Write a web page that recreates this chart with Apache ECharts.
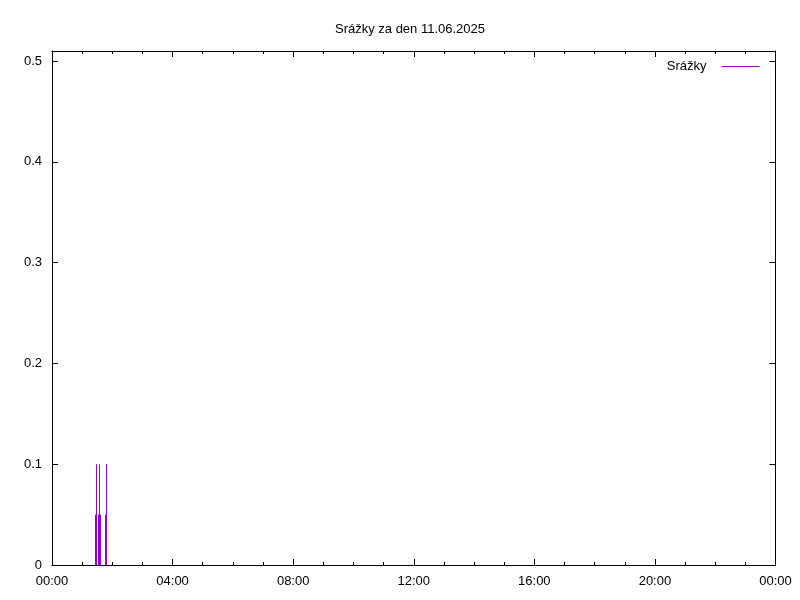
<!DOCTYPE html>
<html>
<head>
<meta charset="utf-8">
<script src="https://cdn.jsdelivr.net/npm/echarts@6/dist/echarts.min.js"></script>
<style>html,body{margin:0;padding:0;background:#fff}#c{width:800px;height:600px}</style>
</head>
<body>
<div id="c"></div>
<script>
// minutes since midnight
const times = [86, 88, 91, 94, 96, 106, 108];
const values = [0.05, 0.1, 0.05, 0.1, 0.05, 0.05, 0.1];
const seriesName = 'Srážky';
const titleText = 'Srážky za den 11.06.2025';
const yTicks = [0, 0.1, 0.2, 0.3, 0.4, 0.5];

function fmtTime(v) {
  const m = Math.round(v) % 1440;
  const h = Math.floor(m / 60), mm = m % 60;
  return String(h).padStart(2, '0') + ':' + String(mm).padStart(2, '0');
}
const font = 'Liberation Sans, Arial, sans-serif';
const chart = echarts.init(document.getElementById('c'), null, {renderer: 'canvas'});
const axLine = {show: true, onZero: false, lineStyle: {color: '#000', width: 1}};
const xBase = {
  type: 'value', min: 0, max: 1440, interval: 240,
  axisLine: axLine,
  axisTick: {show: true, inside: true, length: 6, lineStyle: {color: '#000'}},
  minorTick: {show: true, splitNumber: 4, length: 3, lineStyle: {color: '#000'}},
  splitLine: {show: false}
};
const yBase = {
  type: 'value', min: 0, max: 0.51, interval: 0.1,
  axisLine: axLine,
  axisTick: {show: true, inside: true, length: 6, lineStyle: {color: '#000'}},
  splitLine: {show: false}
};
chart.setOption({
  animation: false,
  backgroundColor: '#fff',
  color: ['#9400d3'],
  title: {
    text: titleText, left: 405, top: 18, textAlign: 'center',
    textStyle: {fontFamily: font, fontSize: 13, fontWeight: 'normal', color: '#000'}
  },
  legend: {
    data: [seriesName],
    right: 40, top: 60, align: 'right',
    itemWidth: 38, itemHeight: 14, itemGap: 0,
    padding: 0,
    itemStyle: {opacity: 0},
    lineStyle: {width: 1, color: '#9400d3'},
    textStyle: {fontFamily: font, fontSize: 13, color: '#000', padding: [0, 10, 0, 0]}
  },
  grid: {left: 52, right: 24.5, top: 51, bottom: 35},
  xAxis: [
    Object.assign({}, xBase, {
      position: 'bottom',
      axisLabel: {show: true, margin: 10, fontFamily: font, fontSize: 13, color: '#000', formatter: fmtTime, showMaxLabel: true}
    }),
    Object.assign({}, xBase, {position: 'top', axisLabel: {show: false}})
  ],
  yAxis: [
    Object.assign({}, yBase, {
      position: 'left',
      axisLabel: {show: true, margin: 10, fontFamily: font, fontSize: 13, color: '#000',
        formatter: v => yTicks.some(t => Math.abs(t - v) < 1e-9) ? String(Math.round(v * 10) / 10) : ''}
    }),
    Object.assign({}, yBase, {position: 'right', axisLabel: {show: false}})
  ],
  series: [{
    name: seriesName, type: 'line', xAxisIndex: 0, yAxisIndex: 0,
    symbol: 'none', showSymbol: false,
    lineStyle: {color: '#9400d3', width: 1},
    itemStyle: {color: '#9400d3'},
    data: []
  }, {
    name: seriesName, type: 'custom', xAxisIndex: 0, yAxisIndex: 0,
    itemStyle: {color: '#9400d3', borderColor: '#9400d3'},
    renderItem: function (params, api) {
      const top = api.coord([api.value(0), api.value(1)]);
      const base = api.coord([api.value(0), 0]);
      const x = Math.round(top[0]) + 0.5;
      return {
        type: 'line',
        shape: {x1: x, y1: base[1], x2: x, y2: top[1]},
        style: {stroke: '#9400d3', lineWidth: 1}
      };
    },
    encode: {x: 0, y: 1},
    data: times.map((t, i) => [t, values[i]])
  }]
});
</script>
</body>
</html>
